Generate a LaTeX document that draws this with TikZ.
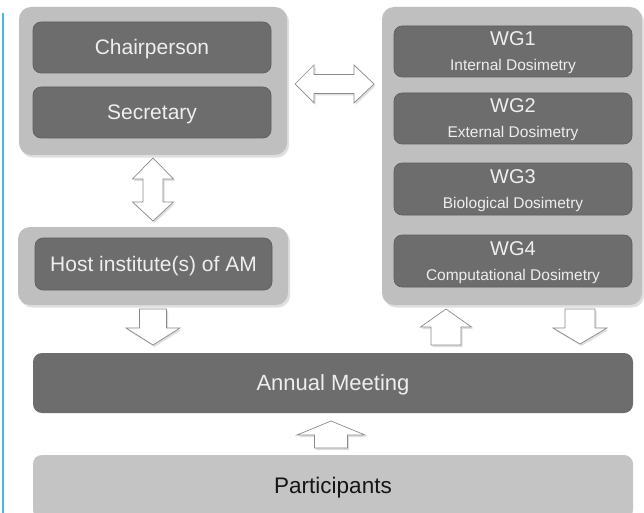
\documentclass[tikz,border=0pt]{standalone}
\usepackage{fontspec}
\setmainfont{Liberation Sans}
\usetikzlibrary{shadows}
\definecolor{outergrey}{HTML}{BFBFBF}
\definecolor{innergrey}{HTML}{6D6D6D}
\definecolor{partgrey}{HTML}{C4C4C4}
\definecolor{lighttext}{HTML}{EEEEEE}
\definecolor{darktext}{HTML}{151515}
\definecolor{arrowline}{HTML}{8A8A8A}
\definecolor{bluebar}{HTML}{45B8DC}
\tikzset{
  outerbox/.style={rounded corners=12pt, fill=outergrey, draw=none, inner sep=0pt,
    drop shadow={shadow xshift=2pt, shadow yshift=-2.5pt, opacity=0.25}},
  innerbox/.style={rounded corners=8pt, fill=innergrey, draw=innergrey!85!black, line width=0.6pt,
    inner sep=0pt, text=lighttext, font=\fontsize{21}{24}\selectfont,
    text height=15pt, text depth=0pt},
  wgtitle/.style={text=lighttext, font=\fontsize{20}{24}\selectfont, inner sep=0pt,
    text height=14.3pt, text depth=0pt},
  wgsub/.style={text=lighttext, font=\fontsize{15.5}{18}\selectfont, inner sep=0pt,
    text height=11pt, text depth=0pt},
  blockarrow/.style={fill=white, draw=arrowline, line width=0.7pt, line join=miter,
    drop shadow={shadow xshift=1.5pt, shadow yshift=-2pt, opacity=0.25}},
}
\begin{document}
\begin{tikzpicture}[x=1pt,y=-1pt]
\useasboundingbox (0,0) rectangle (644,513);
\clip (0,0) rectangle (644,513);
\fill[white] (0,0) rectangle (644,513);
% blue bar
\draw[bluebar, line width=2.6pt] (3,13) -- (3,513);

% left top group
\node[outerbox, minimum width=268pt, minimum height=148pt] (lgroup) at (153,81) {};
\node[innerbox, minimum width=238pt, minimum height=51pt] (chair) at (152,47.5) {Chairperson};
\node[innerbox, minimum width=238pt, minimum height=51pt] (sec) at (152,112.5) {Secretary};

% host group
\node[outerbox, minimum width=270pt, minimum height=78pt] (hgroup) at (153,266) {};
\node[innerbox, minimum width=237pt, minimum height=52pt] (host) at (153.5,264) {Host institute(s) of AM};

% right WG group
\node[outerbox, minimum width=260pt, minimum height=298pt] (rgroup) at (512,156) {};
\node[innerbox, minimum width=238pt, minimum height=51pt] (wg1) at (513,51.5) {};
\node[innerbox, minimum width=238pt, minimum height=51pt] (wg2) at (513,118.5) {};
\node[innerbox, minimum width=238pt, minimum height=52pt] (wg3) at (513,189) {};
\node[innerbox, minimum width=238pt, minimum height=52pt] (wg4) at (513,261) {};
\node[wgtitle] (wg1t) at ([yshift=13pt]wg1.center) {WG1};
\node[wgsub]   (wg1s) at ([yshift=-14pt]wg1.center) {Internal Dosimetry};
\node[wgtitle] (wg2t) at ([yshift=13pt]wg2.center) {WG2};
\node[wgsub]   (wg2s) at ([yshift=-14pt]wg2.center) {External Dosimetry};
\node[wgtitle] (wg3t) at ([yshift=13pt]wg3.center) {WG3};
\node[wgsub]   (wg3s) at ([yshift=-14pt]wg3.center) {Biological Dosimetry};
\node[wgtitle] (wg4t) at ([yshift=13pt]wg4.center) {WG4};
\node[wgsub]   (wg4s) at ([yshift=-14pt]wg4.center) {Computational Dosimetry};

% annual meeting and participants
\node[innerbox, draw=none, rounded corners=9pt, minimum width=600pt, minimum height=60pt,
  font=\fontsize{22}{26}\selectfont, text height=15.8pt] (annual) at (333,383) {Annual Meeting};
\node[rounded corners=9pt, fill=partgrey, inner sep=0pt, minimum width=600pt, minimum height=64pt] (part) at (333,487) {};
\node[text=darktext, font=\fontsize{22.5}{26}\selectfont, inner sep=0pt,
  text height=16.2pt, text depth=0pt] (partt) at (333,485) {Participants};

% horizontal double arrow between left group and WG group
\draw[blockarrow] (295,84) -- (314,65) -- (314,74.5) -- (354,74.5) -- (354,65) -- (374,84)
  -- (354,103) -- (354,93.5) -- (314,93.5) -- (314,103) -- cycle;

% vertical double arrow between left group and host
\draw[blockarrow] (153,158) -- (173.5,179) -- (163,179) -- (163,202) -- (173.5,202) -- (153,221)
  -- (132.5,202) -- (143,202) -- (143,179) -- (132.5,179) -- cycle;

% down arrow host -> annual
\draw[blockarrow] (139.5,309) -- (166.5,309) -- (166.5,328) -- (180,328) -- (153,345)
  -- (126,328) -- (139.5,328) -- cycle;

% up arrow annual -> WG
\draw[blockarrow] (446,309) -- (471.5,327) -- (461,327) -- (461,345) -- (431,345) -- (431,327)
  -- (420.5,327) -- cycle;

% down arrow WG -> annual
\draw[blockarrow] (565,309) -- (595,309) -- (595,328) -- (607,328) -- (580,344)
  -- (553,328) -- (565,328) -- cycle;

% up arrow participants -> annual
\draw[blockarrow] (331,421) -- (365,435) -- (347.5,435) -- (347.5,448) -- (314.5,448) -- (314.5,435)
  -- (297,435) -- cycle;
\end{tikzpicture}
\end{document}
